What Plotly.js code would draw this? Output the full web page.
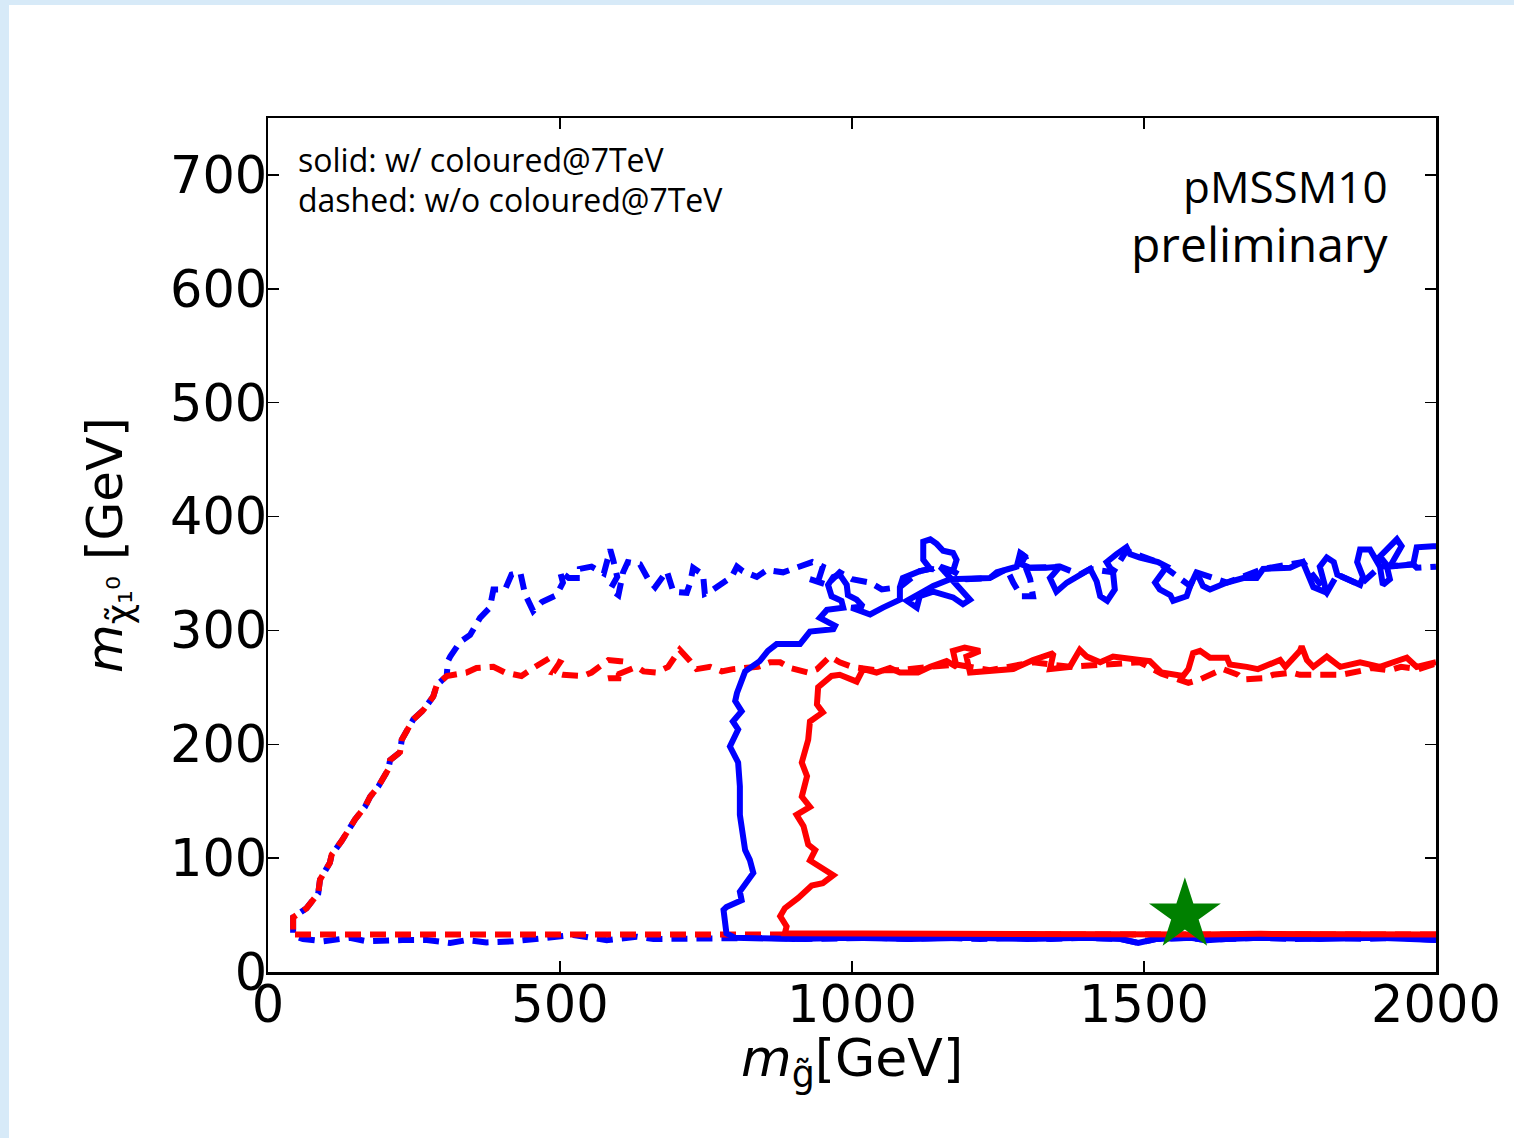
<!DOCTYPE html>
<html>
<head>
<meta charset="utf-8">
<script src="https://cdn.plot.ly/plotly-3.0.1.min.js"></script>
<style>
  html, body { margin:0; padding:0; background:#d7eaf8; width:1514px; height:1138px; overflow:hidden; }
  #sheet { position:absolute; left:9px; top:5px; right:0; bottom:0; background:#ffffff; }
  #plot { position:absolute; left:0; top:0; width:1514px; height:1138px; }
</style>
</head>
<body>
<div id="sheet"></div>
<div id="plot"></div>
<script>
// ---- data (GeV) ----
// shared left diagonal of the dashed contours
const diagX = [43,43,66,86,89,106,109,126,149,166,175,189,206,209,226,229,249,266,283,289,306];
const diagY = [32,48,56,69,81,96,103,115,134,145,154,163,178,186,193,204,222,230,242,252,260];

// blue dashed (w/o coloured@7TeV)
const blueDashBottomX = [2000,1940,1880,1820,1760,1700,1640,1607,1580,1520,1490,1460,1400,1340,1280,1220,1160,1100,1040,980,920,860,808,760,700,660,631,580,523,477,420,374,340,312,272,230,169,140,94,60,43];
const blueDashBottomY = [28,30,29,30,29,30,29,28,30,29,25.5,29,30,29,30,29,30,29,30,29,29,30,30,29,30,29,31,28,32.5,30,27,26,28,25.5,28,28,27,30,27,29,32];
const blueDashTopX = [308,312,329,346,363,380,386,406,417,432,440,454,469,494,505,500,515,534,534,554,575,586,591,598,586,600,608,616,637,651,663,683,694,717,723,728,745,748,757,774,794,803,813,837,854,882,906,932,950,942,928,957,979,1000,1031,1051,1082,1116,1134,1173,1196,1236,1265,1276,1290,1310,1305,1288,1296,1305,1356,1390,1408,1447,1470,1524,1579,1590,1642,1704,1772,1813,1831,1870,1904,1961,1967,2000];
const blueDashTopY = [273,277,290,296,311,320,336,336,349,351,332,317,325,331,342,352,346,346,354,356,350,371,362,347,336,331,351,360,358,345,338,352,334,333,342,355,349,332,334,340,347,356,352,347,353,351,355,360,356,343,345,340,351,345,342,336,338,352,354,352,345,346,354,342,330,330,345,368,365,355,356,349,354,351,370,360,339,351,342,354,360,333,349,340,356,358,355,356];

// red dashed (w/o coloured@7TeV)
const redDashBottomX = [2000,1900,1800,1700,1600,1500,1400,1300,1200,1100,1000,900,800,700,640,580,520,460,400,340,280,220,160,100,60,43];
const redDashBottomY = [33,33,33.5,33,33,33.5,33,33,33.5,33,33,33,33,33,33.5,33,33,33,34,33,33,33,33.5,33,33,33];
const redDashTopX = [340,357,386,406,434,454,483,500,488,505,540,554,583,603,600,583,631,643,665,685,705,723,734,757,777,796,825,839,860,877,894,925,940,962,979,1000,1042,1082,1134,1179,1236,1310,1373,1425,1493,1530,1576,1596,1625,1635,1661,1670,1704,1721,1753,1767,1820,1838,1877,1889,1920,1940,1970,2000];
const redDashTopY = [263,267,268,263,260,267,276,272,263,261,260,263,274,273,258,258,268,264,263,268,283,273,266,268,264,266,267,268,272,272,267,263,266,277,272,268,265,265,268,270,265,272,268,270,272,262,254,257,263,266,261,257,258,261,263,261,261,261,265,267,265,268,266,271];

// blue solid (w/ coloured@7TeV)
const blueSolidX = [2000,1900,1800,1700,1640,1607,1580,1520,1490,1460,1400,1300,1200,1100,1000,900,800,785,780,785,811,808,831,825,817,812,808,808,805,791,805,796,811,800,803,817,842,856,871,911,928,968,971,945,957,985,982,965,959,968,979,991,993,1008,1019,999,1031,1053,1082,1082,1087,1116,1134,1122,1122,1134,1145,1156,1173,1179,1173,1151,1168,1179,1202,1190,1173,1139,1116,1111,1094,1122,1139,1168,1196,1213,1236,1248,1265,1282,1288,1296,1290,1305,1333,1356,1339,1350,1368,1390,1408,1419,1425,1437,1450,1447,1436,1453,1470,1476,1493,1524,1539,1519,1527,1545,1550,1573,1579,1590,1601,1613,1642,1670,1693,1704,1750,1772,1779,1790,1813,1806,1801,1813,1825,1831,1847,1870,1875,1865,1870,1887,1904,1909,1921,1915,1904,1933,1941,1921,1961,1967,1995,2000];
const blueSolidY = [28,30,29,30,29,28,30,29,25.5,29,30,29,30,29,30,29,30,34,54.5,57,63,70.6,87,98.5,107,125,138,163,184,198,213,220,229,238,245,264,273,282,288,288,299,301,304,311,318,320,326,330,340,347,349,340,331,327,321,320,314,320,327,338,346,352,354,362,378,380,376,370,368,362,352,356,346,339,327,323,329,334,330,320,326,334,339,345,345,346,346,351,354,356,368,365,358,355,355,356,346,334,342,349,354,343,330,326,336,351,360,367,373,367,364,360,356,342,336,331,326,330,339,351,339,336,342,346,346,354,355,360,351,338,333,346,356,364,360,349,345,340,347,360,371,371,356,340,345,358,365,380,374,356,358,373,374,374];

// red solid (w/ coloured@7TeV)
const redSolidX = [2000,1900,1800,1700,1600,1500,1400,1300,1200,1100,1000,940,900,885,888,877,885,908,931,950,968,942,928,937,925,917,905,928,914,923,914,925,928,950,940,942,965,979,1008,1019,1042,1065,1082,1113,1134,1162,1179,1173,1193,1219,1196,1202,1236,1276,1310,1345,1339,1373,1390,1402,1425,1447,1493,1510,1530,1567,1576,1584,1596,1613,1642,1647,1676,1695,1733,1742,1767,1770,1779,1790,1813,1825,1836,1870,1904,1938,1950,1967,2000];
const redSolidY = [33,33.5,33,33.5,33,33,33.5,33,33,33.5,33,33.5,33,34,40,49,56,65,76,78,85,93,98,107,112,128,138,145,154,172,184,204,220,228,235,250,260,261,255,266,263,267,263,263,268,273,268,282,285,282,277,263,264,266,274,280,266,268,283,277,272,277,274,273,263,260,266,280,282,276,276,270,268,266,274,268,282,286,274,268,277,273,268,272,268,274,276,268,272];

// benchmark point
const starX = [1570];
const starY = [50];

// tick values
const xTicks = [0,500,1000,1500,2000];
const yTicks = [0,100,200,300,400,500,600,700];

const BLUE = '#0000ff', RED = '#ff0000';
const dashed = '16px,9px';

const traces = [
  { x: blueDashBottomX.concat(diagX, blueDashTopX), y: blueDashBottomY.concat(diagY, blueDashTopY),
    mode:'lines', line:{color:BLUE, width:6, dash:dashed}, hoverinfo:'skip' },
  { x: redDashBottomX.concat(diagX, redDashTopX), y: redDashBottomY.concat(diagY, redDashTopY),
    mode:'lines', line:{color:RED, width:6, dash:dashed}, hoverinfo:'skip' },
  { x: blueSolidX, y: blueSolidY, mode:'lines', line:{color:BLUE, width:6}, hoverinfo:'skip' },
  { x: redSolidX, y: redSolidY, mode:'lines', line:{color:RED, width:6}, hoverinfo:'skip' },
  { x: starX, y: starY, mode:'markers', marker:{symbol:'star', size:54, color:'#008000', line:{width:0}}, hoverinfo:'skip' }
];

const axisFont = {family:'DejaVu Sans', size:51, color:'#000'};
const layout = {
  width:1514, height:1138,
  margin:{l:268, r:78, t:118, b:166, pad:0},
  paper_bgcolor:'rgba(0,0,0,0)', plot_bgcolor:'#ffffff',
  showlegend:false,
  xaxis:{range:[0,2000], tickvals:xTicks, ticktext:xTicks.map(String), ticks:'inside', ticklen:11, tickwidth:1.5, tickcolor:'#000',
         showline:true, linecolor:'#000', linewidth:2.5, mirror:'allticks', showgrid:false, zeroline:false,
         tickfont:axisFont, ticklabelstandoff:-14},
  yaxis:{range:[0,750], tickvals:yTicks, ticktext:yTicks.map(String), ticks:'inside', ticklen:11, tickwidth:1.5, tickcolor:'#000',
         showline:true, linecolor:'#000', linewidth:2.5, mirror:'allticks', showgrid:false, zeroline:false,
         tickfont:axisFont, ticklabelstandoff:-12},
  annotations:[
    {xref:'paper', yref:'paper', x:0.024, y:0.951, xanchor:'left', yanchor:'middle', showarrow:false,
     text:'solid: w/ coloured@7TeV', font:{family:'Open Sans', size:32, color:'#000'}},
    {xref:'paper', yref:'paper', x:0.024, y:0.905, xanchor:'left', yanchor:'middle', showarrow:false,
     text:'dashed: w/o coloured@7TeV', font:{family:'Open Sans', size:32, color:'#000'}},
    {xref:'paper', yref:'paper', x:0.9606, y:0.920, xanchor:'right', yanchor:'middle', showarrow:false,
     text:'pMSSM10', font:{family:'Open Sans', size:44, color:'#000'}},
    {xref:'paper', yref:'paper', x:0.9606, y:0.8536, xanchor:'right', yanchor:'middle', showarrow:false,
     text:'preliminary', font:{family:'Open Sans', size:48, color:'#000'}},
    {xref:'paper', yref:'paper', x:0.5, y:-0.105, xanchor:'center', yanchor:'middle', showarrow:false,
     text:'<i>m</i><sub>g̃</sub>[GeV]', font:{family:'DejaVu Sans', size:52, color:'#000'}},
    {xref:'paper', yref:'paper', x:-0.137, y:0.5, xanchor:'center', yanchor:'middle', showarrow:false, textangle:-90,
     text:'<i>m</i><sub>χ̃₁⁰</sub> [GeV]', font:{family:'DejaVu Sans', size:50, color:'#000'}}
  ]
};
Plotly.newPlot('plot', traces, layout, {displayModeBar:false, staticPlot:true});
</script>
</body>
</html>
